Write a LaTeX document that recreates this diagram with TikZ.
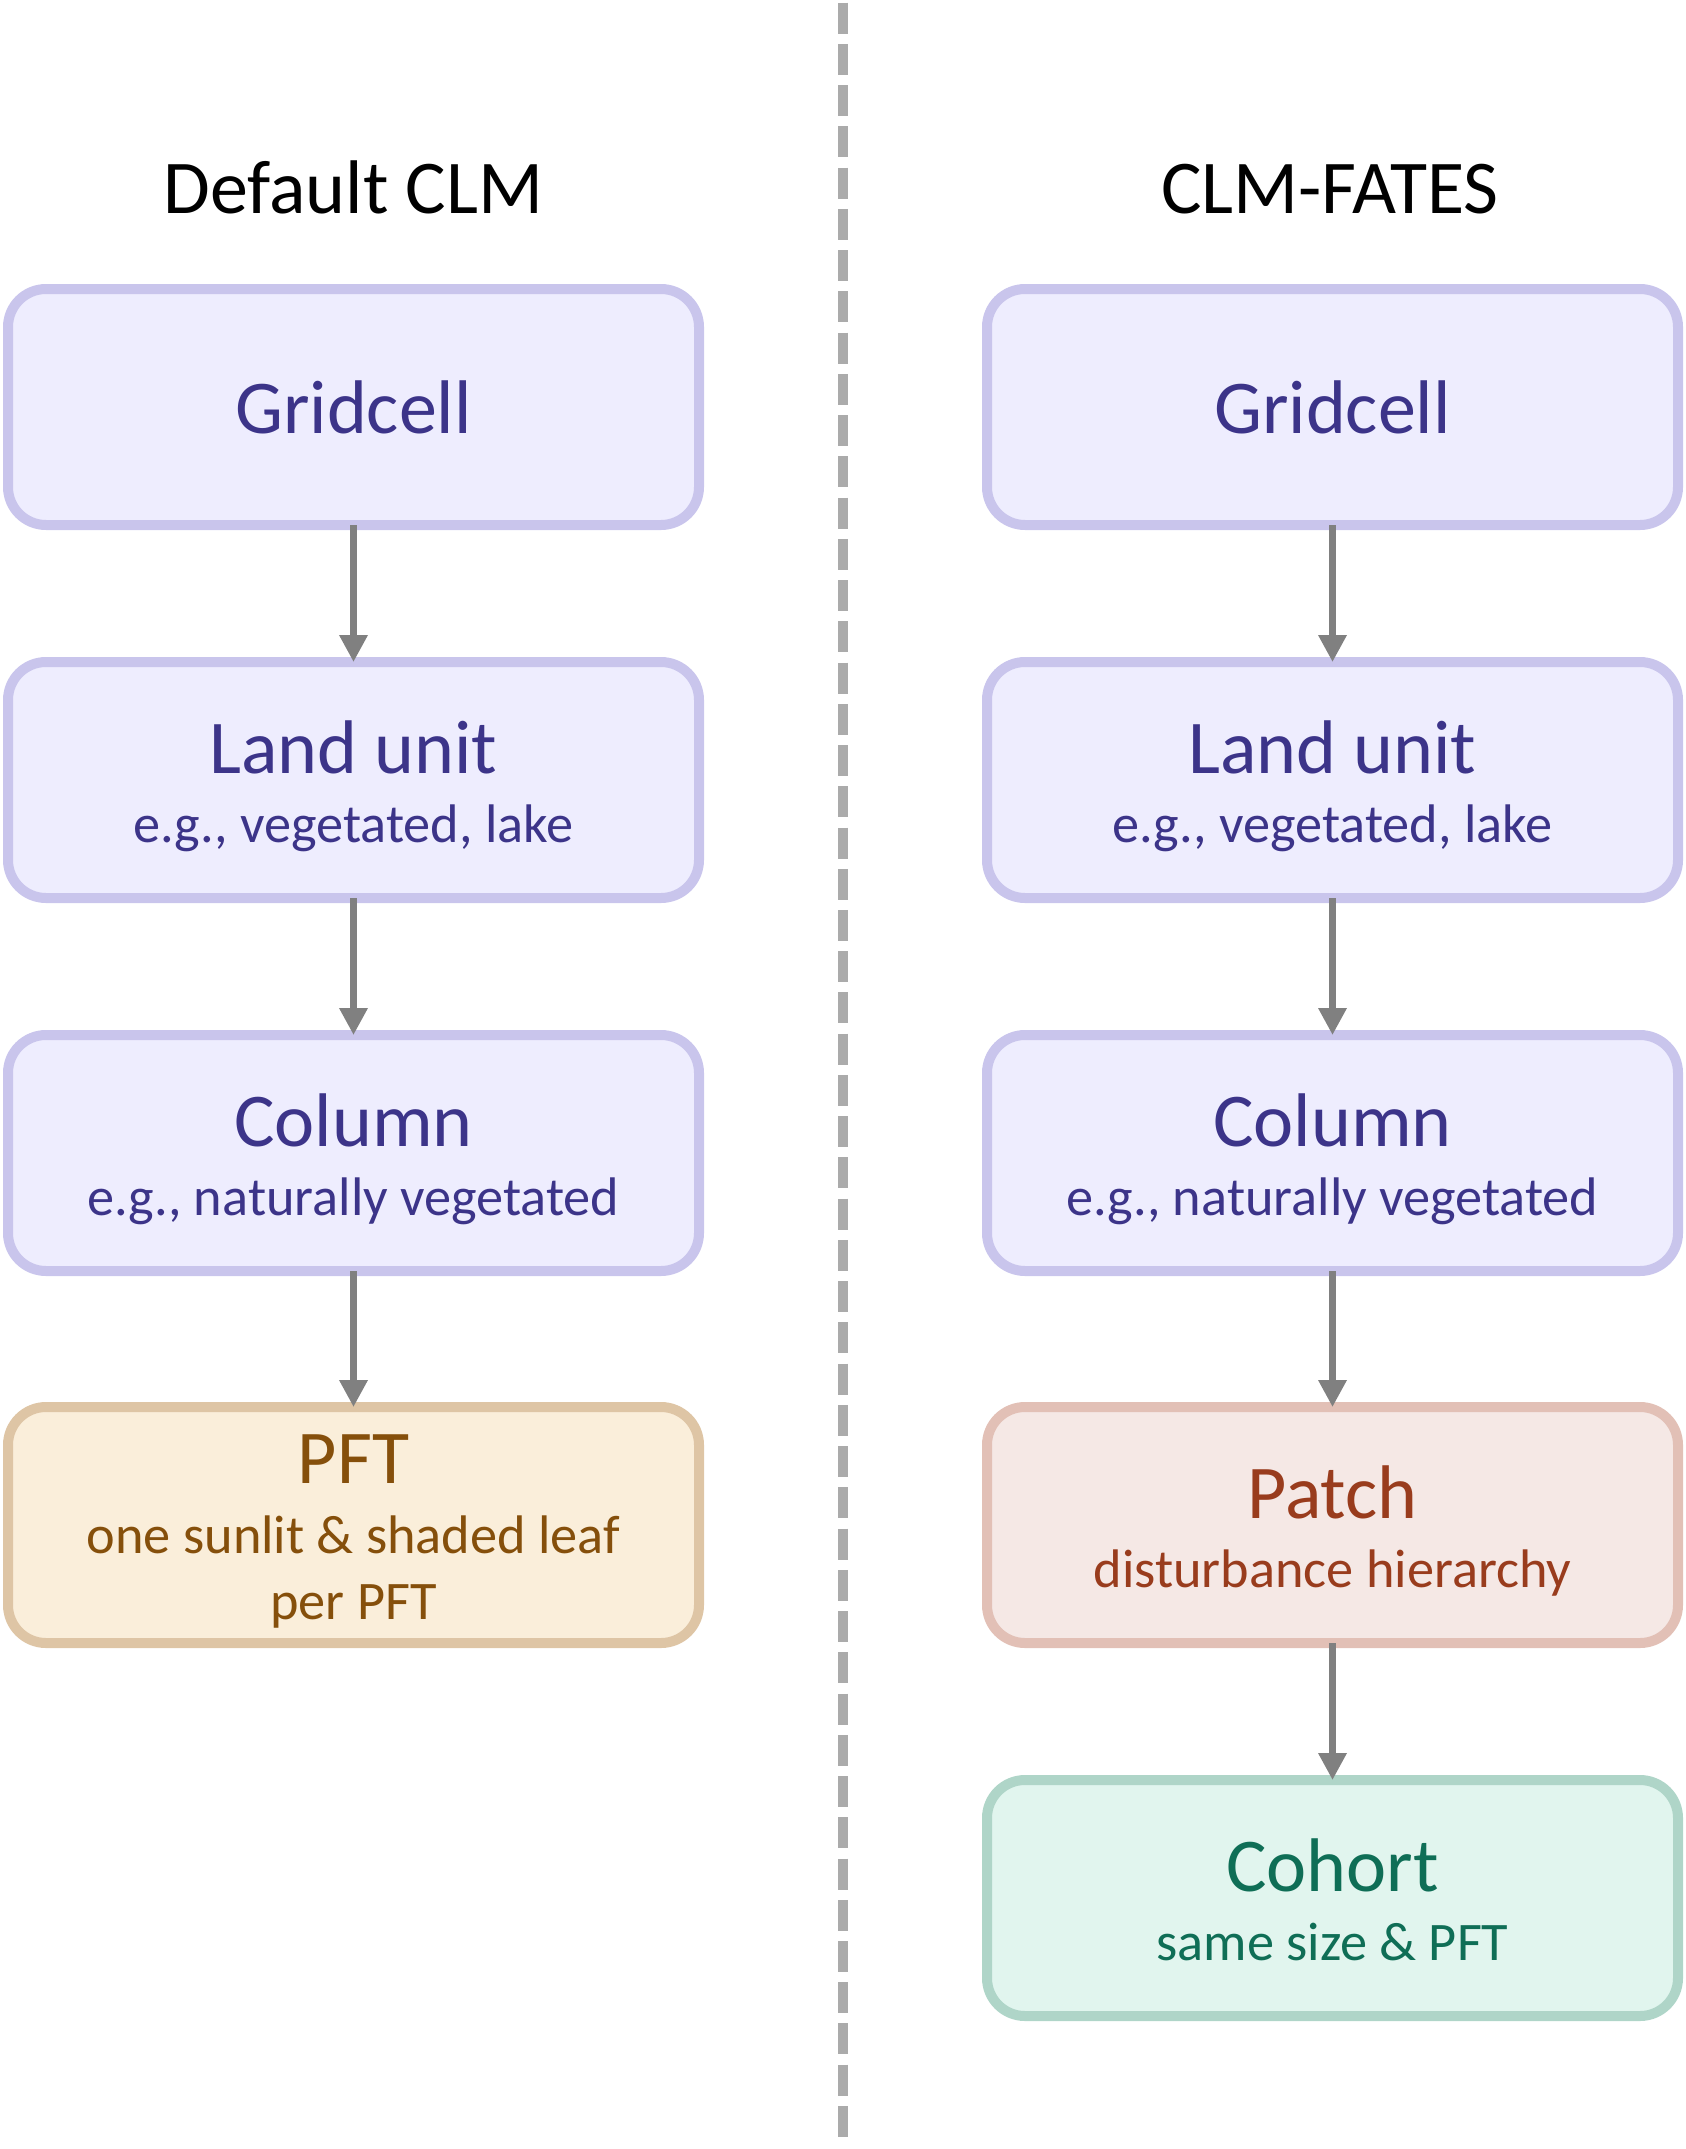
\documentclass[tikz,border=0pt]{standalone}
\usepackage{fontspec}
\setmainfont{Carlito}
\usetikzlibrary{arrows.meta}
\definecolor{purpFill}{HTML}{EEEDFE}
\definecolor{purpLine}{HTML}{C9C5EC}
\definecolor{purpText}{HTML}{3C3489}
\definecolor{ambFill}{HTML}{FAEEDA}
\definecolor{ambLine}{HTML}{DEC5A5}
\definecolor{ambText}{HTML}{854F0B}
\definecolor{corFill}{HTML}{F5E8E5}
\definecolor{corLine}{HTML}{E2C0B6}
\definecolor{corText}{HTML}{993C1D}
\definecolor{tealFill}{HTML}{E1F5EE}
\definecolor{tealLine}{HTML}{AFD5C8}
\definecolor{tealText}{HTML}{0F6E56}
\definecolor{arrowGray}{HTML}{808080}
\definecolor{dashGray}{HTML}{ABABAB}
\newcommand\myTitleFont{\fontsize{76}{80}\selectfont}
\newcommand\mySubFont{\fontsize{54.3}{60}\selectfont}
\tikzset{
  box/.style={rectangle, draw, rounded corners=38pt, line width=10pt,
    minimum width=691pt, minimum height=236pt, inner sep=0pt, outer sep=0pt},
  purpbox/.style={box, draw=purpLine, fill=purpFill},
  ambbox/.style={box, draw=ambLine, fill=ambFill},
  corbox/.style={box, draw=corLine, fill=corFill},
  tealbox/.style={box, draw=tealLine, fill=tealFill},
  headtxt/.style={anchor=base, inner sep=0pt, font=\myTitleFont},
  subtxt/.style={anchor=base, inner sep=0pt, font=\mySubFont},
  arr/.style={draw=arrowGray, line width=6.5pt,
    -{Triangle[length=27pt, width=27pt]}, fill=arrowGray},
  dashline/.style={draw=dashGray, line width=10pt, dash pattern=on 31pt off 10.24pt}
}
\begin{document}
\begin{tikzpicture}[x=1pt, y=-1pt]
\useasboundingbox (0,0) rectangle (1686,2149);

% divider
\coordinate (dtop) at (843,2.7);
\coordinate (dbot) at (843,2137);
\draw[dashline] (dtop) -- (dbot);

% titles
\node[headtxt] (tleft) at (353.5,213) {Default CLM};
\node[headtxt] (tright) at (1330,213) {CLM-FATES};

% left column
\node[purpbox] (lgrid) at (353.5,407) {};
\node[purpbox] (lland) at (353.5,780) {};
\node[purpbox] (lcol) at (353.5,1153) {};
\node[ambbox] (lpft) at (353.5,1525) {};

% right column
\node[purpbox] (rgrid) at (1332.5,407) {};
\node[purpbox] (rland) at (1332.5,780) {};
\node[purpbox] (rcol) at (1332.5,1153) {};
\node[corbox] (rpatch) at (1332.5,1525) {};
\node[tealbox] (rcoh) at (1332.5,1898) {};

% texts left
\node[headtxt, text=purpText] (lgridt) at (353.5,433) {Gridcell};
\node[headtxt, text=purpText] (llandt) at (353.5,773) {Land unit};
\node[subtxt, text=purpText] (llands) at (353.5,842) {e.g., vegetated, lake};
\node[headtxt, text=purpText] (lcolt) at (353.5,1146) {Column};
\node[subtxt, text=purpText] (lcols) at (353.5,1215) {e.g., naturally vegetated};
\node[headtxt, text=ambText] (lpftt) at (353.5,1483) {PFT};
\node[subtxt, text=ambText] (lpfts) at (353.5,1553) {one sunlit \& shaded leaf};
\node[subtxt, text=ambText] (lpfts2) at (353.5,1619) {per PFT};

% texts right
\node[headtxt, text=purpText] (rgridt) at (1332.5,433) {Gridcell};
\node[headtxt, text=purpText] (rlandt) at (1332.5,773) {Land unit};
\node[subtxt, text=purpText] (rlands) at (1332.5,842) {e.g., vegetated, lake};
\node[headtxt, text=purpText] (rcolt) at (1332.5,1146) {Column};
\node[subtxt, text=purpText] (rcols) at (1332.5,1215) {e.g., naturally vegetated};
\node[headtxt, text=corText] (rpatcht) at (1332.5,1518) {Patch};
\node[subtxt, text=corText] (rpatchs) at (1332.5,1587) {disturbance hierarchy};
\node[headtxt, text=tealText] (rcoht) at (1332.5,1891) {Cohort};
\node[subtxt, text=tealText] (rcohs) at (1332.5,1960) {same size \& PFT};

% arrows
\draw[arr] (lgrid.south) -- (lland.north);
\draw[arr] (lland.south) -- (lcol.north);
\draw[arr] (lcol.south) -- (lpft.north);
\draw[arr] (rgrid.south) -- (rland.north);
\draw[arr] (rland.south) -- (rcol.north);
\draw[arr] (rcol.south) -- (rpatch.north);
\draw[arr] (rpatch.south) -- (rcoh.north);
\end{tikzpicture}
\end{document}
